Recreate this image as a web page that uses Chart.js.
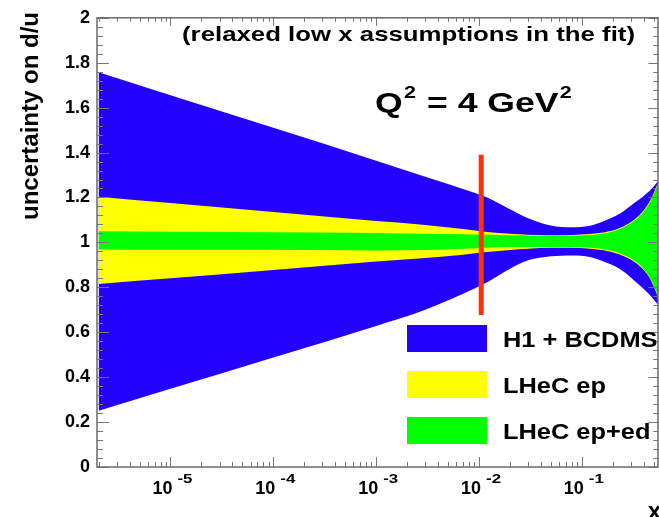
<!DOCTYPE html>
<html>
<head>
<meta charset="utf-8">
<script src="https://cdn.jsdelivr.net/npm/chart.js@4.4.1/dist/chart.umd.min.js"></script>
<style>
  html, body { margin: 0; padding: 0; background: #fff; }
  #wrap { width: 659px; height: 517px; }
</style>
</head>
<body>
<div id="wrap"><canvas id="duChart" width="659" height="517"></canvas></div>
<script>
const xValues = [2e-6, 1e-5, 1e-4, 1e-3, 3e-3, 7e-3, 1.2e-2, 2e-2, 3e-2, 5e-2, 8e-2, 0.12, 0.18, 0.25, 0.32, 0.4, 0.47, 0.55];

// H1 + BCDMS band
const h1Upper = [1.758, 1.655, 1.51, 1.364, 1.292, 1.238, 1.2, 1.148, 1.108, 1.075, 1.067, 1.074, 1.103, 1.137, 1.174, 1.207, 1.235, 1.273];
const h1Lower = [0.25, 0.348, 0.488, 0.628, 0.7, 0.771, 0.823, 0.883, 0.92, 0.938, 0.942, 0.935, 0.907, 0.873, 0.832, 0.793, 0.76, 0.722];
// LHeC ep band
const epUpper = [1.203, 1.175, 1.135, 1.095, 1.078, 1.06, 1.046, 1.038, 1.034, 1.032, 1.033, 1.037, 1.048, 1.07, 1.1, 1.143, 1.193, 1.266];
const epLower = [0.815, 0.84, 0.877, 0.915, 0.93, 0.945, 0.957, 0.966, 0.972, 0.976, 0.976, 0.972, 0.961, 0.941, 0.915, 0.877, 0.83, 0.757];
// LHeC ep+ed band
const epedUpper = [1.05, 1.047, 1.045, 1.042, 1.038, 1.036, 1.034, 1.032, 1.031, 1.03, 1.03, 1.033, 1.043, 1.065, 1.095, 1.138, 1.187, 1.258];
const epedLower = [0.968, 0.967, 0.967, 0.964, 0.966, 0.972, 0.976, 0.979, 0.98, 0.98, 0.979, 0.976, 0.966, 0.946, 0.92, 0.882, 0.835, 0.765];

// red marker at x = 0.01
const markerX = [0.0105, 0.0105];
const markerY = [1.39, 0.677];

const seriesLabels = ['H1 + BCDMS', 'LHeC ep', 'LHeC ep+ed'];
const seriesColors = ['#2400ff', '#ffff00', '#00ff00'];

const yTickValues = [0, 0.2, 0.4, 0.6, 0.8, 1, 1.2, 1.4, 1.6, 1.8, 2];
const yTickLabels = ['0', '0.2', '0.4', '0.6', '0.8', '1', '1.2', '1.4', '1.6', '1.8', '2'];
const xTickExponents = [-5, -4, -3, -2, -1];

const xMin = 1.93e-6, xMax = 0.55;
const FONT = "'Liberation Sans', Arial, sans-serif";

function pts(ys) {
    return xValues.map((x, i) => ({ x: x, y: ys[i] }));
}

function band(label, upper, lower, color, order) {
    return [
        { label: label, data: pts(upper), backgroundColor: color, borderWidth: 0,
          pointRadius: 0, fill: '+1', order: order, cubicInterpolationMode: 'monotone' },
        { label: label + ' low', data: pts(lower), backgroundColor: color, borderWidth: 0,
          pointRadius: 0, fill: false, order: order, cubicInterpolationMode: 'monotone' }
    ];
}

// draws text squeezed/stretched to a given width
function fitText(ctx, text, x, y, width) {
    const w = ctx.measureText(text).width;
    ctx.save();
    ctx.translate(x, y);
    ctx.scale(width / w, 1);
    ctx.fillText(text, 0, 0);
    ctx.restore();
}

const rootStyle = {
    id: 'rootStyle',
    afterDatasetsDraw(chart) {
        const ctx = chart.ctx;
        const a = chart.chartArea;
        const xs = chart.scales.x, ys = chart.scales.y;
        ctx.save();
        ctx.strokeStyle = '#777';
        ctx.lineWidth = 1;
        // y ticks, left and right
        for (let i = 0; i <= 50; i++) {
            const v = i * 0.04;
            const py = Math.round(ys.getPixelForValue(v)) + 0.5;
            const len = (i % 5 === 0) ? 12 : 6;
            ctx.beginPath();
            ctx.moveTo(a.left, py); ctx.lineTo(a.left + len, py);
            ctx.moveTo(a.right, py); ctx.lineTo(a.right - len * 0.8, py);
            ctx.stroke();
        }
        // x ticks, bottom and top
        for (let d = -6; d <= 0; d++) {
            for (let k = 1; k <= 9; k++) {
                const v = k * Math.pow(10, d);
                if (v < xMin || v > xMax) continue;
                const px = Math.round(xs.getPixelForValue(v)) + 0.5;
                const len = (k === 1) ? 10 : 5;
                ctx.beginPath();
                ctx.moveTo(px, a.bottom); ctx.lineTo(px, a.bottom - len);
                ctx.moveTo(px, a.top); ctx.lineTo(px, a.top + len * 0.8);
                ctx.stroke();
            }
        }
        // frame
        ctx.strokeStyle = '#6a6a6a';
        ctx.lineWidth = 1.5;
        ctx.strokeRect(a.left, a.top, a.right - a.left, a.bottom - a.top);
        ctx.restore();
    },
    afterDraw(chart) {
        const ctx = chart.ctx;
        const xs = chart.scales.x;
        ctx.save();
        ctx.fillStyle = '#000';
        ctx.textBaseline = 'alphabetic';

        // x tick labels 10^n
        xTickExponents.forEach(e => {
            const px = xs.getPixelForValue(Math.pow(10, e));
            ctx.textAlign = 'left';
            ctx.font = 'bold 18px ' + FONT;
            fitText(ctx, '10', px - 18, 494, 20);
            ctx.font = 'bold 12px ' + FONT;
            fitText(ctx, String(e), px + 7, 483, 15);
        });

        // x axis title
        ctx.font = 'bold 24px ' + FONT;
        ctx.textAlign = 'right';
        ctx.fillText('x', 661, 519);

        // y axis title
        ctx.save();
        ctx.translate(31, 12);
        ctx.rotate(-Math.PI / 2);
        ctx.font = 'bold 24px ' + FONT;
        ctx.textAlign = 'right';
        ctx.textBaseline = 'middle';
        ctx.fillText('uncertainty on d/u', 0, 0);
        ctx.restore();

        // header note
        ctx.textAlign = 'left';
        ctx.font = 'bold 21px ' + FONT;
        fitText(ctx, '(relaxed low x assumptions in the fit)', 182, 41, 453);

        // Q^2 label, stretched to the reference width
        const parts = [['Q', 28, 112], ['2', 17, 98], [' = 4 GeV', 28, 112], ['2', 17, 98]];
        let natural = 0;
        parts.forEach(p => {
            ctx.font = 'bold ' + p[1] + 'px ' + FONT;
            natural += ctx.measureText(p[0]).width + 1;
        });
        const qs = 198 / natural;
        let qx = 375;
        parts.forEach(p => {
            ctx.font = 'bold ' + p[1] + 'px ' + FONT;
            const w = ctx.measureText(p[0]).width;
            fitText(ctx, p[0], qx, p[2], w * qs);
            qx += (w + 1) * qs;
        });

        // legend
        const boxTop = [325, 371, 417];
        ctx.font = 'bold 22px ' + FONT;
        const scaleX = 103 / ctx.measureText('LHeC ep').width;
        seriesLabels.forEach((lab, i) => {
            ctx.fillStyle = seriesColors[i];
            ctx.fillRect(407, boxTop[i], 80, 27);
            ctx.fillStyle = '#000';
            fitText(ctx, lab, 503, boxTop[i] + 22, ctx.measureText(lab).width * scaleX);
        });
        ctx.restore();
    }
};

const ctx = document.getElementById('duChart').getContext('2d');
const duChart = new Chart(ctx, {
    type: 'line',
    data: {
        datasets: [
            { label: 'marker', data: markerX.map((x, i) => ({ x: x, y: markerY[i] })),
              borderColor: '#ff3300', borderWidth: 5, pointRadius: 0, fill: false, order: 0 },
            ...band(seriesLabels[2], epedUpper, epedLower, seriesColors[2], 1),
            ...band(seriesLabels[1], epUpper, epLower, seriesColors[1], 2),
            ...band(seriesLabels[0], h1Upper, h1Lower, seriesColors[0], 3),
        ],
    },
    options: {
        responsive: false,
        animation: false,
        devicePixelRatio: 1,
        layout: { padding: { top: 12, right: 1, left: 0, bottom: 0 } },
        plugins: { legend: { display: false }, tooltip: { enabled: false } },
        scales: {
            x: {
                type: 'logarithmic',
                min: xMin,
                max: xMax,
                grid: { display: false },
                border: { display: false },
                ticks: { display: false },
                afterFit: (scale) => { scale.height = 50; },
            },
            y: {
                min: 0,
                max: 2,
                grid: { display: false, drawTicks: false },
                border: { display: false },
                afterBuildTicks: (scale) => { scale.ticks = yTickValues.map(v => ({ value: v })); },
                afterFit: (scale) => { scale.width = 97; },
                ticks: {
                    autoSkip: false,
                    padding: 7,
                    color: '#000',
                    font: { family: FONT, size: 18, weight: 'bold' },
                    callback: (v) => yTickLabels[yTickValues.indexOf(v)],
                },
            },
        },
    },
    plugins: [rootStyle],
});
</script>
</body>
</html>
